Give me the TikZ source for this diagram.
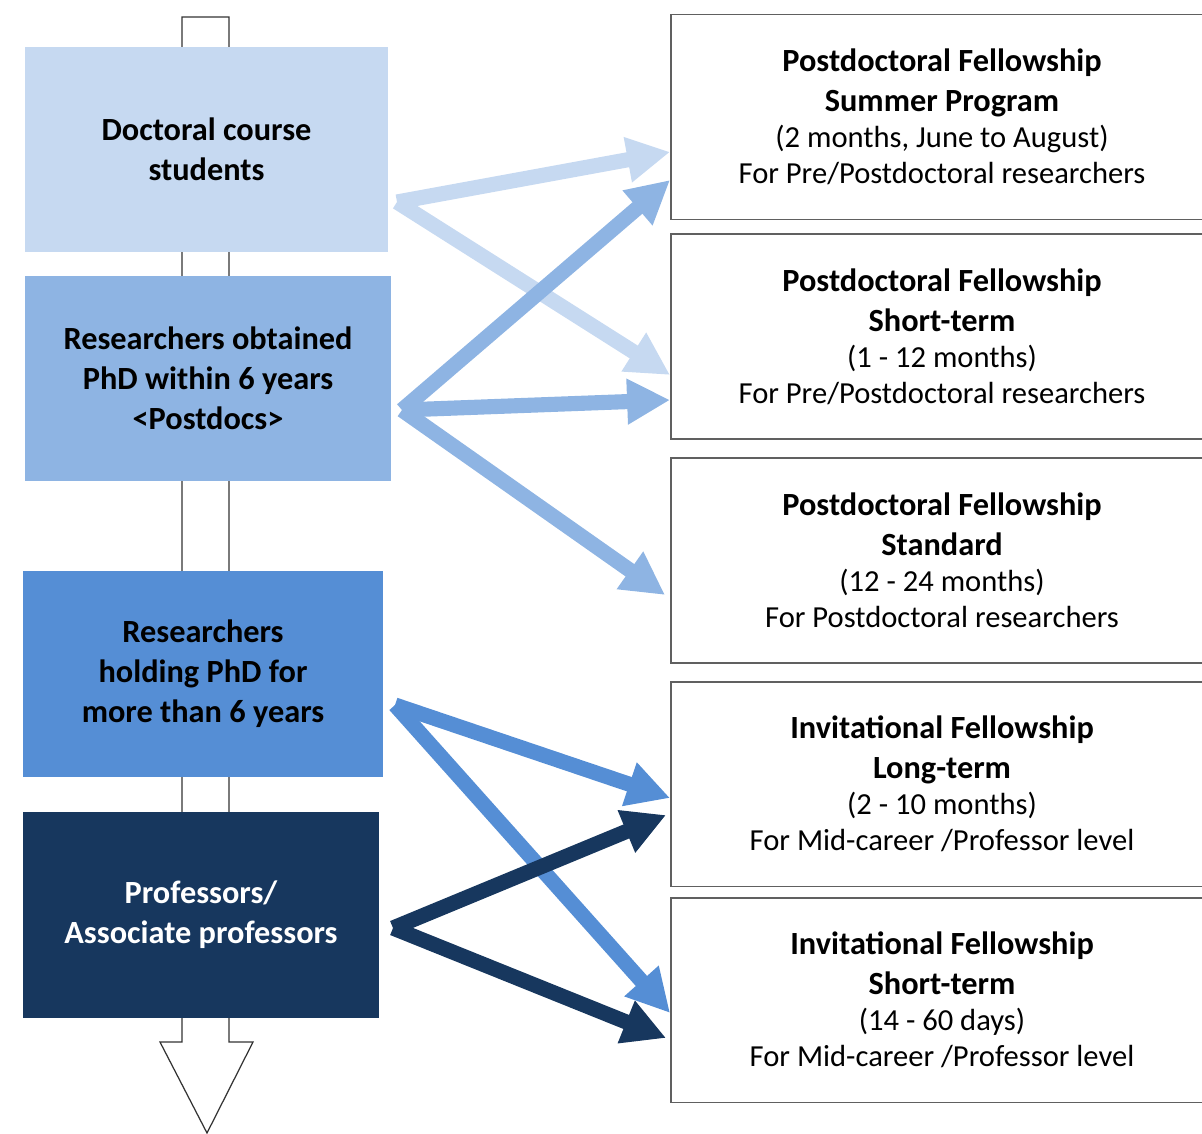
\documentclass[tikz,border=0pt]{standalone}
\usepackage{fontspec}
\setmainfont{Carlito}
\usetikzlibrary{arrows.meta}

\definecolor{lightblue}{HTML}{C6D9F1}
\definecolor{midblue}{HTML}{8EB4E3}
\definecolor{strongblue}{HTML}{558ED5}
\definecolor{navyblue}{HTML}{17375E}
\definecolor{framegray}{HTML}{606060}

\tikzset{
  group/.style={minimum width=#1, minimum height=4.12cm, inner sep=0pt, align=center,
    font=\fontsize{18.4}{22.8}\selectfont\bfseries},
  program/.style={draw=framegray, line width=1.1pt, fill=white, minimum width=10.84cm,
    minimum height=4.1cm, inner sep=0pt, align=center, font=\fontsize{17.4}{20.5}\selectfont},
  flow/.style={line width=8.6pt, -{Triangle[length=0.86cm, width=0.86cm]}},
}

\begin{document}
\begin{tikzpicture}[x=0.02cm, y=-0.02cm]
	\useasboundingbox (0,0) rectangle (1202,1133);

	% Career arrow behind the groups
	\draw[line width=0.7pt, draw=black!80, fill=white]
		(182,17) -- (229,17) -- (229,1042) -- (253,1042) -- (207,1133)
		-- (160,1042) -- (182,1042) -- cycle;

	% Groups
	\node[group=7.26cm, fill=lightblue] (A) at (206.5,149.5) {Doctoral course\\students};
	\node[group=7.32cm, fill=midblue] (B) at (208,378.5) {Researchers obtained\\PhD within 6 years\\<Postdocs>};
	\node[group=7.2cm, fill=strongblue] (C) at (203,674) {Researchers\\holding PhD for\\more than 6 years};
	\node[group=7.12cm, fill=navyblue, text=white] (D) at (201,914.5) {Professors/\\Associate professors};

	% Programs
	\node[program] (P1) at (942,117) {{\fontsize{18.4}{20.5}\selectfont\bfseries Postdoctoral Fellowship}\\[2.3pt]{\fontsize{18.4}{20.5}\selectfont\bfseries Summer Program}\\(2 months, June to August)\\For Pre/Postdoctoral researchers};
	\node[program] (P2) at (942,336.5) {{\fontsize{18.4}{20.5}\selectfont\bfseries Postdoctoral Fellowship}\\[2.3pt]{\fontsize{18.4}{20.5}\selectfont\bfseries Short-term}\\(1 - 12 months)\\For Pre/Postdoctoral researchers};
	\node[program] (P3) at (942,560.5) {{\fontsize{18.4}{20.5}\selectfont\bfseries Postdoctoral Fellowship}\\[2.3pt]{\fontsize{18.4}{20.5}\selectfont\bfseries Standard}\\(12 - 24 months)\\For Postdoctoral researchers};
	\node[program] (P4) at (942,784) {{\fontsize{18.4}{20.5}\selectfont\bfseries Invitational Fellowship}\\[2.3pt]{\fontsize{18.4}{20.5}\selectfont\bfseries Long-term}\\(2 - 10 months)\\For Mid-career /Professor level};
	\node[program] (P5) at (942,1000) {{\fontsize{18.4}{20.5}\selectfont\bfseries Invitational Fellowship}\\[2.3pt]{\fontsize{18.4}{20.5}\selectfont\bfseries Short-term}\\(14 - 60 days)\\For Mid-career /Professor level};

	% Starting points
	\coordinate (a0) at (397,202);
	\coordinate (b0) at (402,410);
	\coordinate (c0) at (395,705);
	\coordinate (d0) at (393,928);

	% Arrows
	\draw[flow, lightblue] (a0) -- ([yshift=-0.70cm]P1.west);
	\draw[flow, lightblue] (a0) -- ([yshift=-0.77cm]P2.west);
	\draw[flow, midblue] (b0) -- ([yshift=-1.26cm]P1.west);
	\draw[flow, midblue] (b0) -- ([yshift=-1.27cm]P2.west);
	\draw[flow, midblue] (b0) -- ([xshift=-0.1cm, yshift=-0.69cm]P3.west);
	\draw[flow, strongblue] (c0) -- ([yshift=-0.28cm]P4.west);
	\draw[flow, strongblue] (c0) -- ([yshift=-0.26cm]P5.west);
	\draw[flow, navyblue] (d0) -- ([xshift=-0.08cm, yshift=-0.62cm]P4.west);
	\draw[flow, navyblue] (d0) -- ([xshift=-0.08cm, yshift=-0.76cm]P5.west);
\end{tikzpicture}
\end{document}
